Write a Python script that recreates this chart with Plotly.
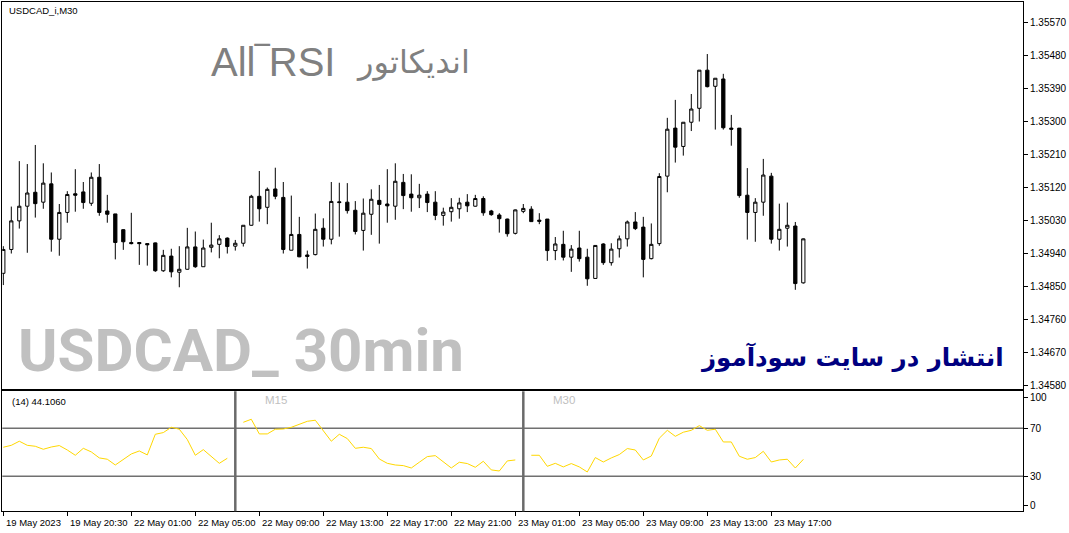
import plotly.graph_objects as go

# Velas USDCAD_i M30 (barras 0..100, de izquierda a derecha)
opens = [1.34886, 1.34951, 1.35029, 1.35069, 1.35107, 1.35080, 1.35130, 1.34979, 1.35052, 1.35103,
         1.35108, 1.35077, 1.35148, 1.35056, 1.35048, 1.35005, 1.34970, 1.34970, 1.34967, 1.34969,
         1.34893, 1.34933, 1.34889, 1.34897, 1.34958, 1.34904, 1.34957, 1.34965, 1.34982, 1.34960,
         1.34968, 1.35017, 1.35096, 1.35066, 1.35116, 1.35093, 1.34949, 1.34992, 1.34936, 1.34937,
         1.35009, 1.34979, 1.35081, 1.35080, 1.35058, 1.35003, 1.35047, 1.35085, 1.35075, 1.35069,
         1.35134, 1.35102, 1.35092, 1.35102, 1.35080, 1.35044, 1.35054, 1.35062, 1.35080, 1.35069,
         1.35090, 1.35056, 1.35045, 1.35034, 1.34995, 1.35055, 1.35061, 1.35031, 1.35034, 1.34948,
         1.34965, 1.34930, 1.34955, 1.34930, 1.34872, 1.34966, 1.34915, 1.34953, 1.34980, 1.35026,
         1.35012, 1.34926, 1.34967, 1.35151, 1.35282, 1.35232, 1.35298, 1.35336, 1.35440, 1.35396,
         1.35416, 1.35282, 1.35282, 1.35099, 1.35052, 1.35080, 1.35151, 1.34979, 1.35009, 1.35015,
         1.34860]
highs = [1.34960, 1.35068, 1.35192, 1.35184, 1.35236, 1.35186, 1.35161, 1.35075, 1.35110, 1.35170,
         1.35135, 1.35161, 1.35184, 1.35100, 1.35048, 1.35006, 1.35051, 1.34970, 1.34967, 1.34970,
         1.34950, 1.34953, 1.34960, 1.35010, 1.35000, 1.34978, 1.35024, 1.34990, 1.34984, 1.34977,
         1.35017, 1.35100, 1.35165, 1.35120, 1.35174, 1.35135, 1.35098, 1.35040, 1.34948, 1.35049,
         1.35036, 1.35135, 1.35133, 1.35132, 1.35083, 1.35090, 1.35115, 1.35127, 1.35170, 1.35186,
         1.35157, 1.35156, 1.35130, 1.35110, 1.35110, 1.35065, 1.35091, 1.35092, 1.35102, 1.35100,
         1.35096, 1.35059, 1.35050, 1.35035, 1.35060, 1.35075, 1.35069, 1.35050, 1.35034, 1.34985,
         1.35002, 1.34963, 1.35002, 1.34953, 1.34962, 1.34968, 1.34968, 1.34989, 1.35030, 1.35053,
         1.35040, 1.35022, 1.35159, 1.35310, 1.35359, 1.35298, 1.35375, 1.35440, 1.35484, 1.35418,
         1.35430, 1.35318, 1.35282, 1.35173, 1.35091, 1.35198, 1.35160, 1.35076, 1.35079, 1.35026,
         1.34981]
lows = [1.34854, 1.34940, 1.35008, 1.34942, 1.35038, 1.35062, 1.34945, 1.34934, 1.35024, 1.35054,
        1.35062, 1.35070, 1.35043, 1.35024, 1.34924, 1.34950, 1.34965, 1.34909, 1.34907, 1.34890,
        1.34890, 1.34875, 1.34848, 1.34896, 1.34901, 1.34904, 1.34943, 1.34927, 1.34940, 1.34948,
        1.34959, 1.35016, 1.35027, 1.35020, 1.35088, 1.34940, 1.34949, 1.34930, 1.34899, 1.34935,
        1.34959, 1.34965, 1.34986, 1.35049, 1.34992, 1.34948, 1.34991, 1.34967, 1.35024, 1.35032,
        1.35061, 1.35054, 1.35064, 1.35053, 1.35031, 1.35016, 1.35027, 1.35035, 1.35053, 1.35068,
        1.35043, 1.35043, 1.34997, 1.34986, 1.34992, 1.35050, 1.35027, 1.35020, 1.34920, 1.34922,
        1.34921, 1.34890, 1.34918, 1.34852, 1.34872, 1.34909, 1.34907, 1.34929, 1.34959, 1.35004,
        1.34875, 1.34924, 1.34961, 1.35107, 1.35188, 1.35207, 1.35274, 1.35300, 1.35393, 1.35278,
        1.35278, 1.35234, 1.35092, 1.34978, 1.34972, 1.35043, 1.34967, 1.34948, 1.34959, 1.34841,
        1.34858]
closes = [1.34951, 1.35029, 1.35069, 1.35105, 1.35076, 1.35132, 1.34979, 1.35052, 1.35101, 1.35099,
          1.35079, 1.35148, 1.35052, 1.35047, 1.34970, 1.34972, 1.34967, 1.34967, 1.34964, 1.34893,
          1.34935, 1.34890, 1.34897, 1.34958, 1.34904, 1.34955, 1.34963, 1.34980, 1.34959, 1.34968,
          1.35017, 1.35096, 1.35062, 1.35115, 1.35096, 1.34951, 1.34992, 1.34931, 1.34932, 1.35006,
          1.34979, 1.35082, 1.35079, 1.35057, 1.35000, 1.35050, 1.35088, 1.35074, 1.35070, 1.35137,
          1.35098, 1.35092, 1.35099, 1.35079, 1.35044, 1.35053, 1.35066, 1.35078, 1.35070, 1.35090,
          1.35051, 1.35046, 1.35035, 1.34994, 1.35059, 1.35063, 1.35027, 1.35028, 1.34948, 1.34966,
          1.34930, 1.34952, 1.34926, 1.34871, 1.34962, 1.34915, 1.34952, 1.34980, 1.35026, 1.35008,
          1.34924, 1.34965, 1.35150, 1.35279, 1.35230, 1.35298, 1.35334, 1.35440, 1.35395, 1.35418,
          1.35283, 1.35279, 1.35098, 1.35052, 1.35080, 1.35154, 1.34979, 1.35006, 1.35017, 1.34858,
          1.34980]

# All-RSI(14): tres bloques, uno por marco temporal
rsi_m5 = [54.2, 55.8, 59.2, 55.8, 55.0, 52.5, 54.4, 55.6, 51.9, 47.5, 53.3, 50.3, 45.3, 44.2, 39.4,
          43.9, 48.6, 51.1, 47.8, 65.0, 66.4, 70.8, 69.2, 60.6, 47.5, 52.2, 46.7, 40.8, 45.0]
rsi_m15 = [75.0, 77.5, 65.3, 65.3, 69.2, 69.4, 70.8, 73.1, 75.8, 76.7, 68.1, 59.2, 65.0, 61.4, 53.3,
           54.2, 53.1, 44.4, 40.8, 39.4, 38.9, 36.9, 41.7, 46.4, 47.2, 41.9, 36.9, 41.7, 40.6, 37.5,
           42.5, 35.3, 34.4, 42.8, 43.6]
rsi_m30 = [47.5, 47.5, 38.3, 40.8, 37.8, 40.6, 37.8, 33.6, 45.6, 41.9, 45.3, 48.1, 53.1, 51.9, 43.6,
           46.9, 61.7, 68.3, 63.3, 66.7, 68.3, 72.2, 68.3, 69.2, 58.6, 58.6, 46.7, 44.2, 45.6, 50.8,
           41.9, 43.6, 44.2, 36.9, 44.1]
rsi_blocks = [rsi_m5, rsi_m15, rsi_m30]
rsi_starts = [0, 30, 66]
rsi_names = ['', 'M15', 'M30']
rsi_levels = [70, 30]

# Ejes
price_ticks = [1.34580, 1.34670, 1.34760, 1.34850, 1.34940, 1.35030,
               1.35120, 1.35210, 1.35300, 1.35390, 1.35480, 1.35570]
time_tick_bars = [0, 8, 16, 24, 32, 40, 48, 56, 64, 72, 80, 88, 96]
time_tick_labels = ['19 May 2023', '19 May 20:30', '22 May 01:00', '22 May 05:00', '22 May 09:00',
                    '22 May 13:00', '22 May 17:00', '22 May 21:00', '23 May 01:00', '23 May 05:00',
                    '23 May 09:00', '23 May 13:00', '23 May 17:00']
rsi_tick_text = ['0', '30', '70', '100']

W, H = 1069, 533
FONT = 'Tahoma, Liberation Sans, Arial, sans-serif'


def px_x(x):
    return x / W


def px_y(y):
    return 1 - y / H


bars = list(range(len(opens)))

fig = go.Figure()
fig.add_trace(go.Candlestick(
    x=bars, open=opens, high=highs, low=lows, close=closes,
    increasing=dict(line=dict(color='black', width=1), fillcolor='white'),
    decreasing=dict(line=dict(color='black', width=1), fillcolor='black'),
    whiskerwidth=0, hoverinfo='skip', xaxis='x', yaxis='y'))

for vals, start in zip(rsi_blocks, rsi_starts):
    fig.add_trace(go.Scatter(
        x=[start + i for i in range(len(vals))], y=vals, mode='lines',
        line=dict(color='#FFD700', width=1), hoverinfo='skip', xaxis='x2', yaxis='y2'))

shapes = []
for lv in rsi_levels:
    shapes.append(dict(type='line', xref='x2 domain', yref='y2', x0=0, x1=1, y0=lv, y1=lv,
                       line=dict(color='#707070', width=1.5), layer='below'))
# separadores entre bloques
for start in rsi_starts[1:]:
    shapes.append(dict(type='line', xref='x2', yref='y2 domain', x0=start - 1, x1=start - 1,
                       y0=0, y1=1, line=dict(color='#6a6a6a', width=2.5)))

annotations = [
    dict(text='USDCAD_i,M30', x=px_x(7), y=px_y(10.5), xanchor='left', yanchor='middle',
         font=dict(family=FONT, size=9.5, color='black')),
    dict(text='All‾RSI', x=px_x(209), y=px_y(62), xanchor='left', yanchor='middle',
         font=dict(family='Liberation Sans, Arial', size=40, color='#808080')),
    dict(text='اندیکاتور', x=px_x(472), y=px_y(62), xanchor='right', yanchor='middle',
         font=dict(family='DejaVu Sans', size=32, color='#808080')),
    dict(text='<b>USDCAD_ 30min</b>', x=px_x(16), y=px_y(350), xanchor='left', yanchor='middle',
         font=dict(family='Roboto', size=60, color='#c0c0c0')),
    dict(text='<b>انتشار در سایت سودآموز</b>', x=px_x(1006), y=px_y(357), xanchor='right',
         yanchor='middle', font=dict(family='DejaVu Sans', size=24.5, color='#000080')),
    dict(text='(14) 44.1060', x=px_x(10), y=px_y(401),
         xanchor='left', yanchor='middle', font=dict(family=FONT, size=9.5, color='black')),
]
for name, start in zip(rsi_names, rsi_starts):
    if name:
        annotations.append(dict(text=name, x=start + 2.5, xref='x2', y=px_y(400), yref='paper',
                                xanchor='left', yanchor='middle',
                                font=dict(family=FONT, size=11.5, color='#c0c0c0')))
for b, lab in zip(time_tick_bars, time_tick_labels):
    annotations.append(dict(text=lab, x=b, xref='x2', y=px_y(522), yref='paper', xshift=1,
                            xanchor='left', yanchor='middle',
                            font=dict(family=FONT, size=9.5, color='black')))
for a in annotations:
    a.setdefault('xref', 'paper')
    a.setdefault('yref', 'paper')
    a['showarrow'] = False

x_dom = [px_x(2.3), px_x(1023)]
x_range = [-0.125, 127.46]
axis_common = dict(showgrid=False, zeroline=False, showline=True, mirror=True,
                   linecolor='black', linewidth=1, tickcolor='black',
                   tickfont=dict(family=FONT, size=10, color='black'))

fig.update_layout(
    width=W, height=H, margin=dict(l=0, r=0, t=0, b=0),
    paper_bgcolor='white', plot_bgcolor='white', showlegend=False,
    boxgap=0.42,
    xaxis=dict(domain=x_dom, range=x_range, anchor='y', showticklabels=False, ticks='',
               rangeslider=dict(visible=False), **axis_common),
    yaxis=dict(domain=[px_y(389.3), px_y(2.3)], range=[1.345697, 1.356251], side='right',
               anchor='x', tickmode='array', tickvals=price_ticks,
               ticktext=['%.5f' % v for v in price_ticks], ticks='outside', ticklen=4,
               automargin=False, **axis_common),
    xaxis2=dict(domain=x_dom, range=x_range, anchor='y2', matches='x', tickvals=time_tick_bars,
                showticklabels=False, ticks='outside', ticklen=4, **axis_common),
    yaxis2=dict(domain=[px_y(511.3), px_y(391.3)], range=[0.83, 100.8], side='right',
                anchor='x2', tickmode='array', tickvals=[5.25, 30, 70, 95.25],
                ticktext=rsi_tick_text, ticks='outside', ticklen=4, automargin=False,
                **axis_common),
    shapes=shapes, annotations=annotations,
)

fig.write_html('out.html', config={'displayModeBar': False},
               post_script="document.body.style.margin='0';")
